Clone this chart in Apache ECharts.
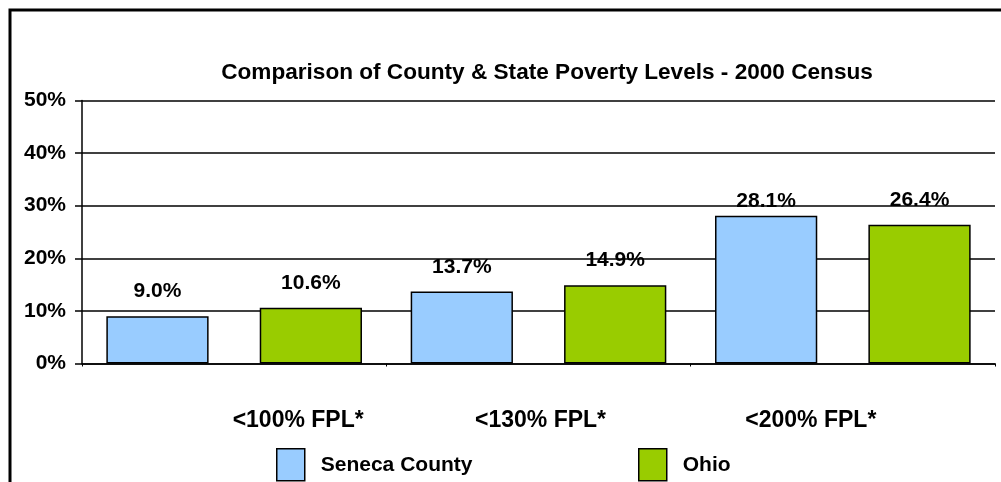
<!DOCTYPE html>
<html>
<head>
<meta charset="utf-8">
<script src="https://cdn.jsdelivr.net/npm/echarts@6/dist/echarts.min.js"></script>
<style>
html,body{margin:0;padding:0;background:#fff;}
#chart{width:1001px;height:482px;}
</style>
</head>
<body>
<div id="chart"></div>
<script>
const categories = ['<100% FPL*', '<130% FPL*', '<200% FPL*'];
const senecaValues = [9.0, 13.7, 28.1];
const ohioValues = [10.6, 14.9, 26.4];
const seriesNames = ['Seneca County', 'Ohio'];
const titleText = 'Comparison of County & State Poverty Levels - 2000 Census';

const FONT = "'Liberation Sans', Arial, sans-serif";
const labelShift = [64, 2, -32];

const chart = echarts.init(document.getElementById('chart'), null, {renderer: 'canvas'});

function richFor(i) {
  const s = labelShift[i];
  const pad = s >= 0 ? [0, 0, 0, 2 * s] : [0, -2 * s, 0, 0];
  return {fontFamily: FONT, fontWeight: 'bold', fontSize: 23, color: '#000', padding: pad};
}
const rich = {};
categories.forEach((c, i) => { rich['c' + i] = richFor(i); });

function makeData(vals, liftIndex, liftDist) {
  return vals.map((v, i) => {
    if (i === liftIndex) {
      return {value: v, label: {distance: liftDist}};
    }
    return v;
  });
}

const option = {
  backgroundColor: '#fff',
  animation: false,
  title: {
    text: titleText,
    left: 547,
    textAlign: 'center',
    top: 61,
    padding: 0,
    textStyle: {fontFamily: FONT, fontWeight: 'bold', fontSize: 22.6, color: '#000'}
  },
  graphic: [{
    type: 'rect',
    shape: {x: 10, y: 10, width: 1200, height: 700},
    style: {fill: 'none', stroke: '#000', lineWidth: 3},
    silent: true
  }],
  legend: [
    {
      data: [seriesNames[0]],
      left: 276, top: 448,
      itemWidth: 28, itemHeight: 32,
      icon: 'rect',
      padding: 0,
      itemStyle: {borderColor: '#000', borderWidth: 1.5},
      textStyle: {fontFamily: FONT, fontWeight: 'bold', fontSize: 21, color: '#000', padding: [0, 0, 0, 11]}
    },
    {
      data: [seriesNames[1]],
      left: 638, top: 448,
      itemWidth: 28, itemHeight: 32,
      icon: 'rect',
      padding: 0,
      itemStyle: {borderColor: '#000', borderWidth: 1.5},
      textStyle: {fontFamily: FONT, fontWeight: 'bold', fontSize: 21, color: '#000', padding: [0, 0, 0, 11]}
    }
  ],
  grid: {left: 82, right: 6, top: 100.5, bottom: 118.5, containLabel: false},
  xAxis: {
    type: 'category',
    data: categories,
    axisLine: {lineStyle: {color: '#000', width: 1.5}},
    axisTick: {show: true, length: 3, lineStyle: {color: '#000', width: 1}},
    axisLabel: {
      margin: 46,
      interval: 0,
      formatter: function (v, i) { return '{c' + i + '|' + v + '}'; },
      rich: rich
    }
  },
  yAxis: {
    type: 'value',
    min: 0, max: 50, interval: 10,
    axisLine: {show: true, lineStyle: {color: '#000', width: 1.5}},
    axisTick: {show: true, length: 7, lineStyle: {color: '#000', width: 1.5}},
    splitLine: {show: true, lineStyle: {color: '#000', width: 1.5}},
    axisLabel: {
      margin: 16,
      formatter: '{value}%',
      fontFamily: FONT, fontWeight: 'bold', fontSize: 21, color: '#000'
    }
  },
  series: [
    {
      name: seriesNames[0],
      type: 'bar',
      data: makeData(senecaValues, 2, 4),
      barGap: '50%',
      barCategoryGap: '16%',
      itemStyle: {color: '#99CCFF', borderColor: '#000', borderWidth: 1.5},
      label: {
        show: true, position: 'top', distance: 14,
        formatter: p => p.value.toFixed(1) + '%',
        fontFamily: FONT, fontWeight: 'bold', fontSize: 21, color: '#000'
      }
    },
    {
      name: seriesNames[1],
      type: 'bar',
      data: makeData(ohioValues, -1, 0),
      barGap: '50%',
      barCategoryGap: '16%',
      itemStyle: {color: '#99CC00', borderColor: '#000', borderWidth: 1.5},
      label: {
        show: true, position: 'top', distance: 14,
        formatter: p => p.value.toFixed(1) + '%',
        fontFamily: FONT, fontWeight: 'bold', fontSize: 21, color: '#000'
      }
    }
  ]
};
chart.setOption(option);
</script>
</body>
</html>
